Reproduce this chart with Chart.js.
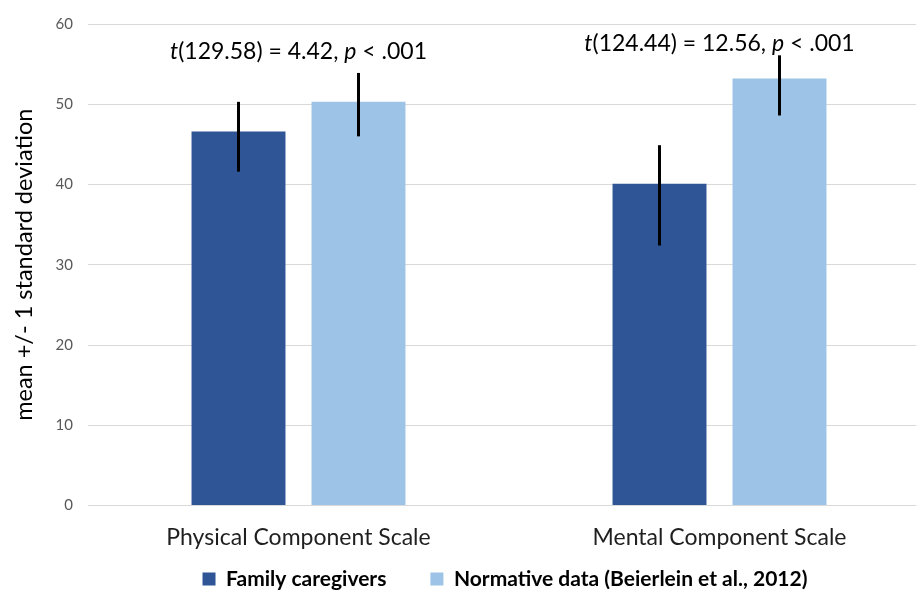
<!DOCTYPE html>
<html>
<head>
<meta charset="utf-8">
<title>SF-12 component scales</title>
<script src="https://cdn.jsdelivr.net/npm/chart.js@4/dist/chart.umd.min.js"></script>
<style>
  html, body { margin: 0; padding: 0; background: #fff; }
  #frame { width: 916px; height: 590px; overflow: hidden; position: relative; }
  #wrap { width: 930px; height: 590px; position: absolute; left: 0; top: 0; }
</style>
</head>
<body>
<div id="frame"><div id="wrap"><canvas id="chart"></canvas></div></div>
<script>
// Means with the ends of the +/- 1 SD whiskers.
const categories = ['Physical Component Scale', 'Mental Component Scale'];
const seriesNames = ['Family caregivers', 'Normative data (Beierlein et al., 2012)'];
const caregiverMeans = [46.6, 40.1];
const normativeMeans = [50.3, 53.2];
const caregiverLow = [41.6, 32.4];
const caregiverHigh = [50.3, 44.9];
const normativeLow = [46.0, 48.6];
const normativeHigh = [53.9, 56.1];
const yTicks = [0, 10, 20, 30, 40, 50, 60];
// Welch t-test results per category
const tDf = ['129.58', '124.44'];
const tValue = ['4.42', '12.56'];
const pText = ['< .001', '< .001'];

const FONT = "Lato, 'Open Sans', sans-serif";
const DARK = '#2F5597';
const LIGHT = '#9DC3E6';
const ANNO_Y = [55.6, 56.6]; // baseline of the t-test text, in axis units
const LEGEND_FONT = 21;
const LEGEND_CENTER_X = 505;
const LEGEND_CENTER_Y = 579;

const errLow = [caregiverLow, normativeLow];
const errHigh = [caregiverHigh, normativeHigh];

const errorBars = {
  id: 'errorBars',
  afterDatasetsDraw(chart) {
    const { ctx } = chart;
    const y = chart.scales.y;
    ctx.save();
    ctx.strokeStyle = '#000';
    ctx.lineWidth = 3;
    chart.data.datasets.forEach((ds, i) => {
      const meta = chart.getDatasetMeta(i);
      meta.data.forEach((bar, j) => {
        ctx.beginPath();
        ctx.moveTo(bar.x, y.getPixelForValue(errLow[i][j]));
        ctx.lineTo(bar.x, y.getPixelForValue(errHigh[i][j]));
        ctx.stroke();
      });
    });
    ctx.restore();
  },
};

const tTests = {
  id: 'tTests',
  afterDraw(chart) {
    const { ctx } = chart;
    const x = chart.scales.x;
    const y = chart.scales.y;
    const plain = `23px ${FONT}`;
    const ital = `italic 23px ${FONT}`;
    ctx.save();
    ctx.fillStyle = '#000';
    ctx.textBaseline = 'alphabetic';
    ctx.textAlign = 'left';
    categories.forEach((c, j) => {
      const parts = [
        [ital, 't'],
        [plain, `(${tDf[j]}) = ${tValue[j]}, `],
        [ital, 'p'],
        [plain, ` ${pText[j]}`],
      ];
      let total = 0;
      const widths = parts.map(([f, s]) => { ctx.font = f; const w = ctx.measureText(s).width; total += w; return w; });
      let cx = x.getPixelForValue(j) - total / 2;
      const cy = y.getPixelForValue(ANNO_Y[j]);
      parts.forEach(([f, s], k) => {
        ctx.font = f;
        ctx.fillText(s, cx, cy);
        cx += widths[k];
      });
    });
    ctx.restore();
  },
};

// The legend box is kept short (maxHeight) so the axis keeps its room;
// here it is moved to where the original has it.
const placeLegend = {
  id: 'placeLegend',
  afterLayout(chart) {
    const lg = chart.legend;
    if (!lg) return;
    const pad = lg.options.labels.padding;
    const dx = LEGEND_CENTER_X - (lg.left + lg.right) / 2;
    lg.left += dx; lg.right += dx;
    lg.top = LEGEND_CENTER_Y - pad - LEGEND_FONT / 2;
    lg.bottom = chart.height;
  },
};

new Chart(document.getElementById('chart'), {
  type: 'bar',
  data: {
    labels: categories,
    datasets: [
      { label: seriesNames[0], data: caregiverMeans, backgroundColor: DARK },
      { label: seriesNames[1], data: normativeMeans, backgroundColor: LIGHT },
    ],
  },
  options: {
    responsive: true,
    maintainAspectRatio: false,
    animation: false,
    events: [],
    layout: { padding: { top: 21, right: 0, bottom: 0, left: 0 } },
    datasets: { bar: { categoryPercentage: 0.57, barPercentage: 0.783 } },
    plugins: {
      tooltip: { enabled: false },
      legend: {
        position: 'bottom',
        align: 'center',
        maxHeight: 24,
        labels: {
          boxWidth: 13,
          boxHeight: 13,
          padding: 44,
          color: '#000',
          font: { family: FONT, size: LEGEND_FONT, weight: 'bold' },
        },
      },
    },
    scales: {
      x: {
        grid: { display: false, drawTicks: false },
        border: { display: false },
        ticks: { color: '#1F1F1F', font: { family: FONT, size: 23 }, padding: 18 },
        afterFit(s) { s.height = 60.5; },
      },
      y: {
        min: 0,
        max: 60,
        afterBuildTicks(s) { s.ticks = yTicks.map(v => ({ value: v })); },
        grid: { color: '#D9D9D9', lineWidth: 1, drawTicks: false },
        border: { display: false },
        ticks: { color: '#595959', font: { family: FONT, size: 15 }, padding: 15 },
        title: {
          display: true,
          text: 'mean +/- 1 standard deviation',
          color: '#000',
          font: { family: FONT, size: 23.5 },
          padding: { top: 10, bottom: 0 },
        },
        afterFit(s) { s.width = 88; },
      },
    },
  },
  plugins: [errorBars, tTests, placeLegend],
});
</script>
</body>
</html>
